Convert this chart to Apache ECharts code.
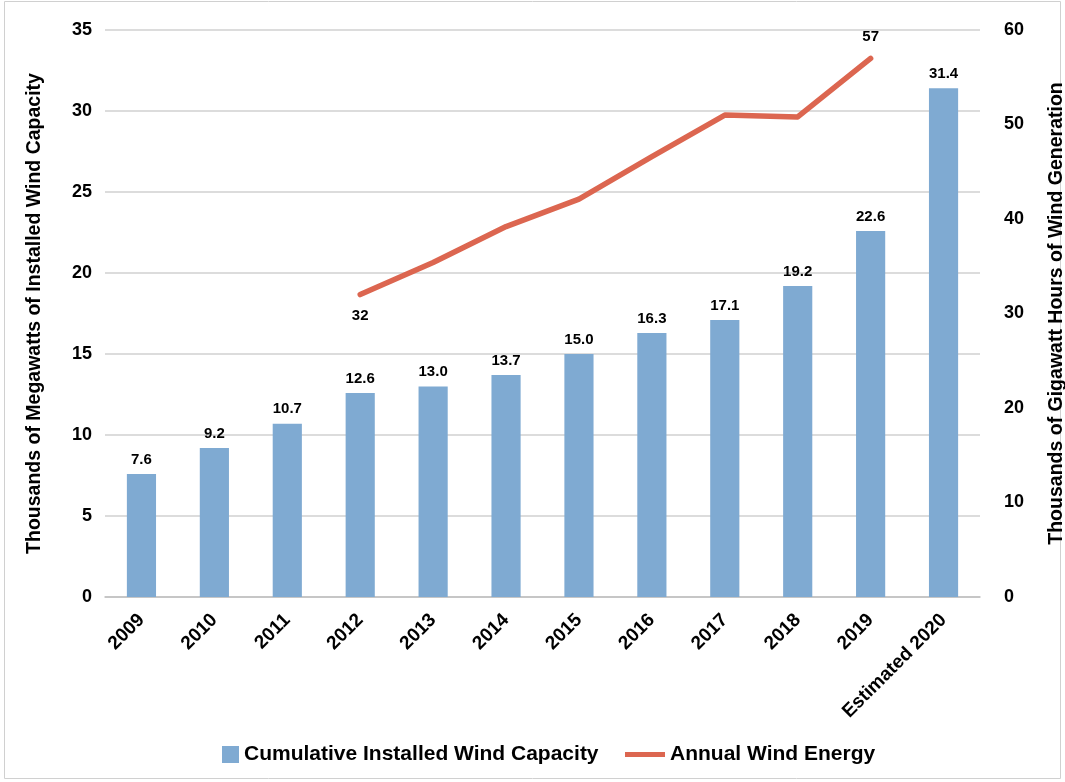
<!DOCTYPE html>
<html><head><meta charset="utf-8">
<script src="https://cdn.jsdelivr.net/npm/echarts@6/dist/echarts.min.js"></script>
<style>html,body{margin:0;padding:0;background:#fff}#c{width:1065px;height:782px}</style>
</head><body><div id="c"></div>
<script>
var categories = ['2009','2010','2011','2012','2013','2014','2015','2016','2017','2018','2019','Estimated 2020'];
var capacity = [7.6, 9.2, 10.7, 12.6, 13.0, 13.7, 15.0, 16.3, 17.1, 19.2, 22.6, 31.4];
var energy = [null, null, null, 32, 35.4, 39.2, 42.1, 46.6, 51.0, 50.8, 57, null];
var energyLabelled = [3, 10];
var leftTicks = {min: 0, max: 35, interval: 5};
var rightTicks = {min: 0, max: 60, interval: 10};
var FONT = 'Liberation Sans';

var energyData = energy.map(function (v, i) {
  if (energyLabelled.indexOf(i) < 0) return v;
  return {value: v, label: {show: true, position: i === 3 ? 'bottom' : 'top'}};
});

var chart = echarts.init(document.getElementById('c'));
var legendText = {fontFamily: FONT, fontWeight: 'bold', fontSize: 21, color: '#000'};
chart.setOption({
  animation: false,
  textStyle: {fontFamily: FONT},
  graphic: [{type: 'rect', shape: {x: 4.5, y: 1.5, width: 1056, height: 777}, style: {fill: 'none', stroke: '#d0d0d0', lineWidth: 1}}],
  grid: {left: 105, right: 85, top: 30, bottom: 185, outerBoundsMode: 'none', containLabel: false},
  legend: [{
    bottom: 12, left: 217, itemGap: 0,
    textStyle: legendText,
    data: [{name: 'Cumulative Installed Wind Capacity', icon: 'rect'}],
    itemWidth: 17, itemHeight: 17
  }, {
    bottom: 12, left: 620, itemGap: 0,
    textStyle: legendText,
    data: [{name: 'Annual Wind Energy', icon: 'rect'}],
    itemWidth: 40, itemHeight: 5
  }],
  xAxis: {
    type: 'category', data: categories,
    axisLine: {lineStyle: {color: '#bfbfbf', width: 1.5}},
    axisTick: {show: false},
    axisLabel: {rotate: 45, fontSize: 19, fontWeight: 'bold', color: '#000', margin: 20, interval: 0}
  },
  yAxis: [{
    type: 'value', min: leftTicks.min, max: leftTicks.max, interval: leftTicks.interval,
    name: 'Thousands of Megawatts of Installed Wind Capacity', nameLocation: 'middle', nameGap: 60,
    nameTextStyle: {fontSize: 19.5, fontWeight: 'bold', color: '#000'},
    axisLine: {show: false}, axisTick: {show: false},
    axisLabel: {fontSize: 18, fontWeight: 'bold', color: '#000', margin: 13},
    splitLine: {lineStyle: {color: '#d0d0d0', width: 1.5}}
  }, {
    type: 'value', min: rightTicks.min, max: rightTicks.max, interval: rightTicks.interval,
    name: 'Thousands of Gigawatt Hours of Wind Generation', nameLocation: 'middle', nameGap: 67,
    nameRotate: 90,
    nameTextStyle: {fontSize: 19.5, fontWeight: 'bold', color: '#000'},
    axisLine: {show: false}, axisTick: {show: false},
    axisLabel: {fontSize: 18, fontWeight: 'bold', color: '#000', margin: 24},
    splitLine: {show: false}
  }],
  series: [{
    name: 'Cumulative Installed Wind Capacity', type: 'bar', data: capacity,
    barWidth: '40%', itemStyle: {color: '#7faad2'},
    label: {show: true, position: 'top', distance: 7, fontSize: 15, fontWeight: 'bold', color: '#000',
      formatter: function (p) { return p.value.toFixed(1); }}
  }, {
    name: 'Annual Wind Energy', type: 'line', yAxisIndex: 1, data: energyData,
    symbol: 'circle', symbolSize: 0.01, showSymbol: true, connectNulls: false,
    lineStyle: {color: '#dc6650', width: 5.5, cap: 'round', join: 'round'},
    itemStyle: {color: '#dc6650'},
    label: {show: false, fontSize: 15, fontWeight: 'bold', color: '#000', distance: 14}
  }]
});
</script></body></html>
